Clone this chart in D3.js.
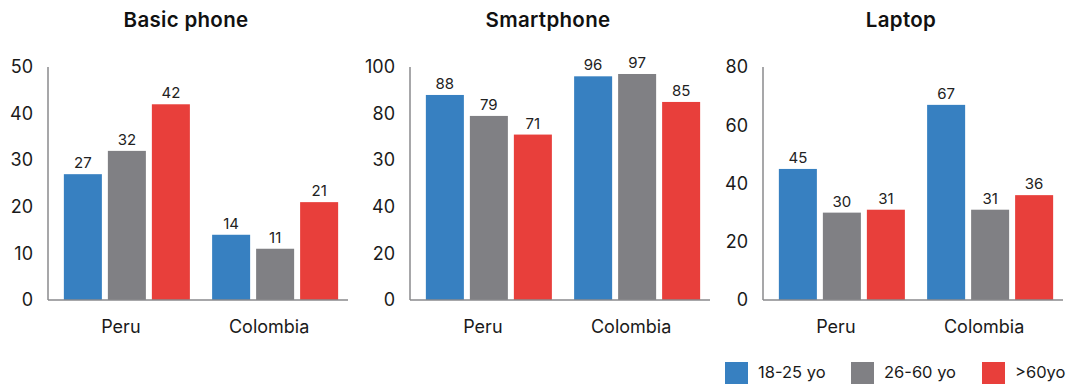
<!DOCTYPE html>
<html>
<head>
<meta charset="utf-8">
<script src="https://cdn.jsdelivr.net/npm/d3@7/dist/d3.min.js"></script>
<style>
  html, body { margin: 0; padding: 0; background: #fff; }
  svg { display: block; font-family: Inter, "Noto Sans", sans-serif; }
</style>
</head>
<body>
<svg id="chart" width="1067" height="387"></svg>
<script>
// Device ownership by age group, per country
const countries = ["Peru", "Colombia"];
const ageGroups = ["18-25 yo", "26-60 yo", ">60yo"];
const groupColors = ["#3780c1", "#808084", "#e83f3b"];

const panelTitles = ["Basic phone", "Smartphone", "Laptop"];

// values per country, in age-group order
const basicPhone = [[27, 32, 42], [14, 11, 21]];
const smartphone = [[88, 79, 71], [96, 97, 85]];
const laptop = [[45, 30, 31], [67, 31, 36]];

const basicTicks = [0, 10, 20, 30, 40, 50];
const basicTickLabels = ["0", "10", "20", "30", "40", "50"];
const smartTicks = [0, 20, 40, 60, 80, 100];
const smartTickLabels = ["0", "20", "40", "30", "80", "100"];
const laptopTicks = [0, 20, 40, 60, 80];
const laptopTickLabels = ["0", "20", "40", "60", "80"];

const panels = [
  { title: panelTitles[0], values: basicPhone, ticks: basicTicks, labels: basicTickLabels, left: 48 },
  { title: panelTitles[1], values: smartphone, ticks: smartTicks, labels: smartTickLabels, left: 410 },
  { title: panelTitles[2], values: laptop, ticks: laptopTicks, labels: laptopTickLabels, left: 763 }
];

const svg = d3.select("#chart");
const plotW = 300, plotTop = 67, plotBottom = 300;
const axisColor = "#8a8a8c";

panels.forEach(p => {
  const g = svg.append("g").attr("transform", `translate(${p.left},0)`);

  const y = d3.scaleLinear()
    .domain([0, d3.max(p.ticks)])
    .range([plotBottom, plotTop]);

  const x0 = d3.scaleBand()
    .domain(countries)
    .range([4, plotW + 2])
    .paddingInner(0.15)
    .paddingOuter(0.08);

  const x1 = d3.scaleBand()
    .domain(ageGroups)
    .range([0, x0.bandwidth()])
    .paddingInner(0.136)
    .paddingOuter(0);

  // title
  g.append("text")
    .attr("x", plotW / 2 - 12)
    .attr("y", 27)
    .attr("text-anchor", "middle")
    .attr("font-size", 20.5)
    .attr("font-weight", 600)
    .attr("letter-spacing", 0.3)
    .attr("fill", "#111")
    .text(p.title);

  // y axis
  const yAxis = d3.axisLeft(y)
    .tickValues(p.ticks)
    .tickFormat((d, i) => p.labels[i])
    .tickSize(0)
    .tickPadding(15);
  const ya = g.append("g").call(yAxis);
  ya.select(".domain").remove();
  ya.selectAll("text")
    .attr("font-family", "Inter, 'Noto Sans', sans-serif")
    .attr("font-size", 18)
    .attr("fill", "#1a1a1a");

  // x axis labels
  const xAxis = d3.axisBottom(x0).tickSize(0).tickPadding(20);
  const xa = g.append("g").attr("transform", `translate(0,${plotBottom})`).call(xAxis);
  xa.select(".domain").remove();
  xa.selectAll("text")
    .attr("dx", -6)
    .attr("font-family", "Inter, 'Noto Sans', sans-serif")
    .attr("font-size", 18)
    .attr("fill", "#1a1a1a");

  // bars
  const groups = g.selectAll(".country")
    .data(countries)
    .join("g")
    .attr("class", "country")
    .attr("transform", d => `translate(${x0(d)},0)`);

  groups.each(function(c, ci) {
    const rows = ageGroups.map((a, ai) => ({ age: a, value: p.values[ci][ai], color: groupColors[ai] }));
    const cg = d3.select(this);
    cg.selectAll("rect")
      .data(rows)
      .join("rect")
      .attr("x", d => x1(d.age))
      .attr("y", d => y(d.value))
      .attr("width", x1.bandwidth())
      .attr("height", d => plotBottom - y(d.value))
      .attr("fill", d => d.color);
    cg.selectAll("text.val")
      .data(rows)
      .join("text")
      .attr("class", "val")
      .attr("x", d => x1(d.age) + x1.bandwidth() / 2)
      .attr("y", d => y(d.value) - 6)
      .attr("text-anchor", "middle")
      .attr("font-size", 15)
      .attr("fill", "#222")
      .text(d => d.value);
  });

  // axis lines
  g.append("line")
    .attr("x1", 0).attr("x2", 0)
    .attr("y1", plotTop).attr("y2", plotBottom)
    .attr("stroke", axisColor).attr("stroke-width", 1.5);
  g.append("line")
    .attr("x1", 0).attr("x2", plotW)
    .attr("y1", plotBottom).attr("y2", plotBottom)
    .attr("stroke", axisColor).attr("stroke-width", 1.5);
});

// legend
const legendX = [725, 851, 982];
const legend = svg.append("g");
ageGroups.forEach((a, i) => {
  legend.append("rect")
    .attr("x", legendX[i]).attr("y", 362)
    .attr("width", 23).attr("height", 22)
    .attr("fill", groupColors[i]);
  legend.append("text")
    .attr("x", legendX[i] + 33).attr("y", 378)
    .attr("font-size", 16.5)
    .attr("fill", "#1a1a1a")
    .text(a);
});
</script>
</body>
</html>
